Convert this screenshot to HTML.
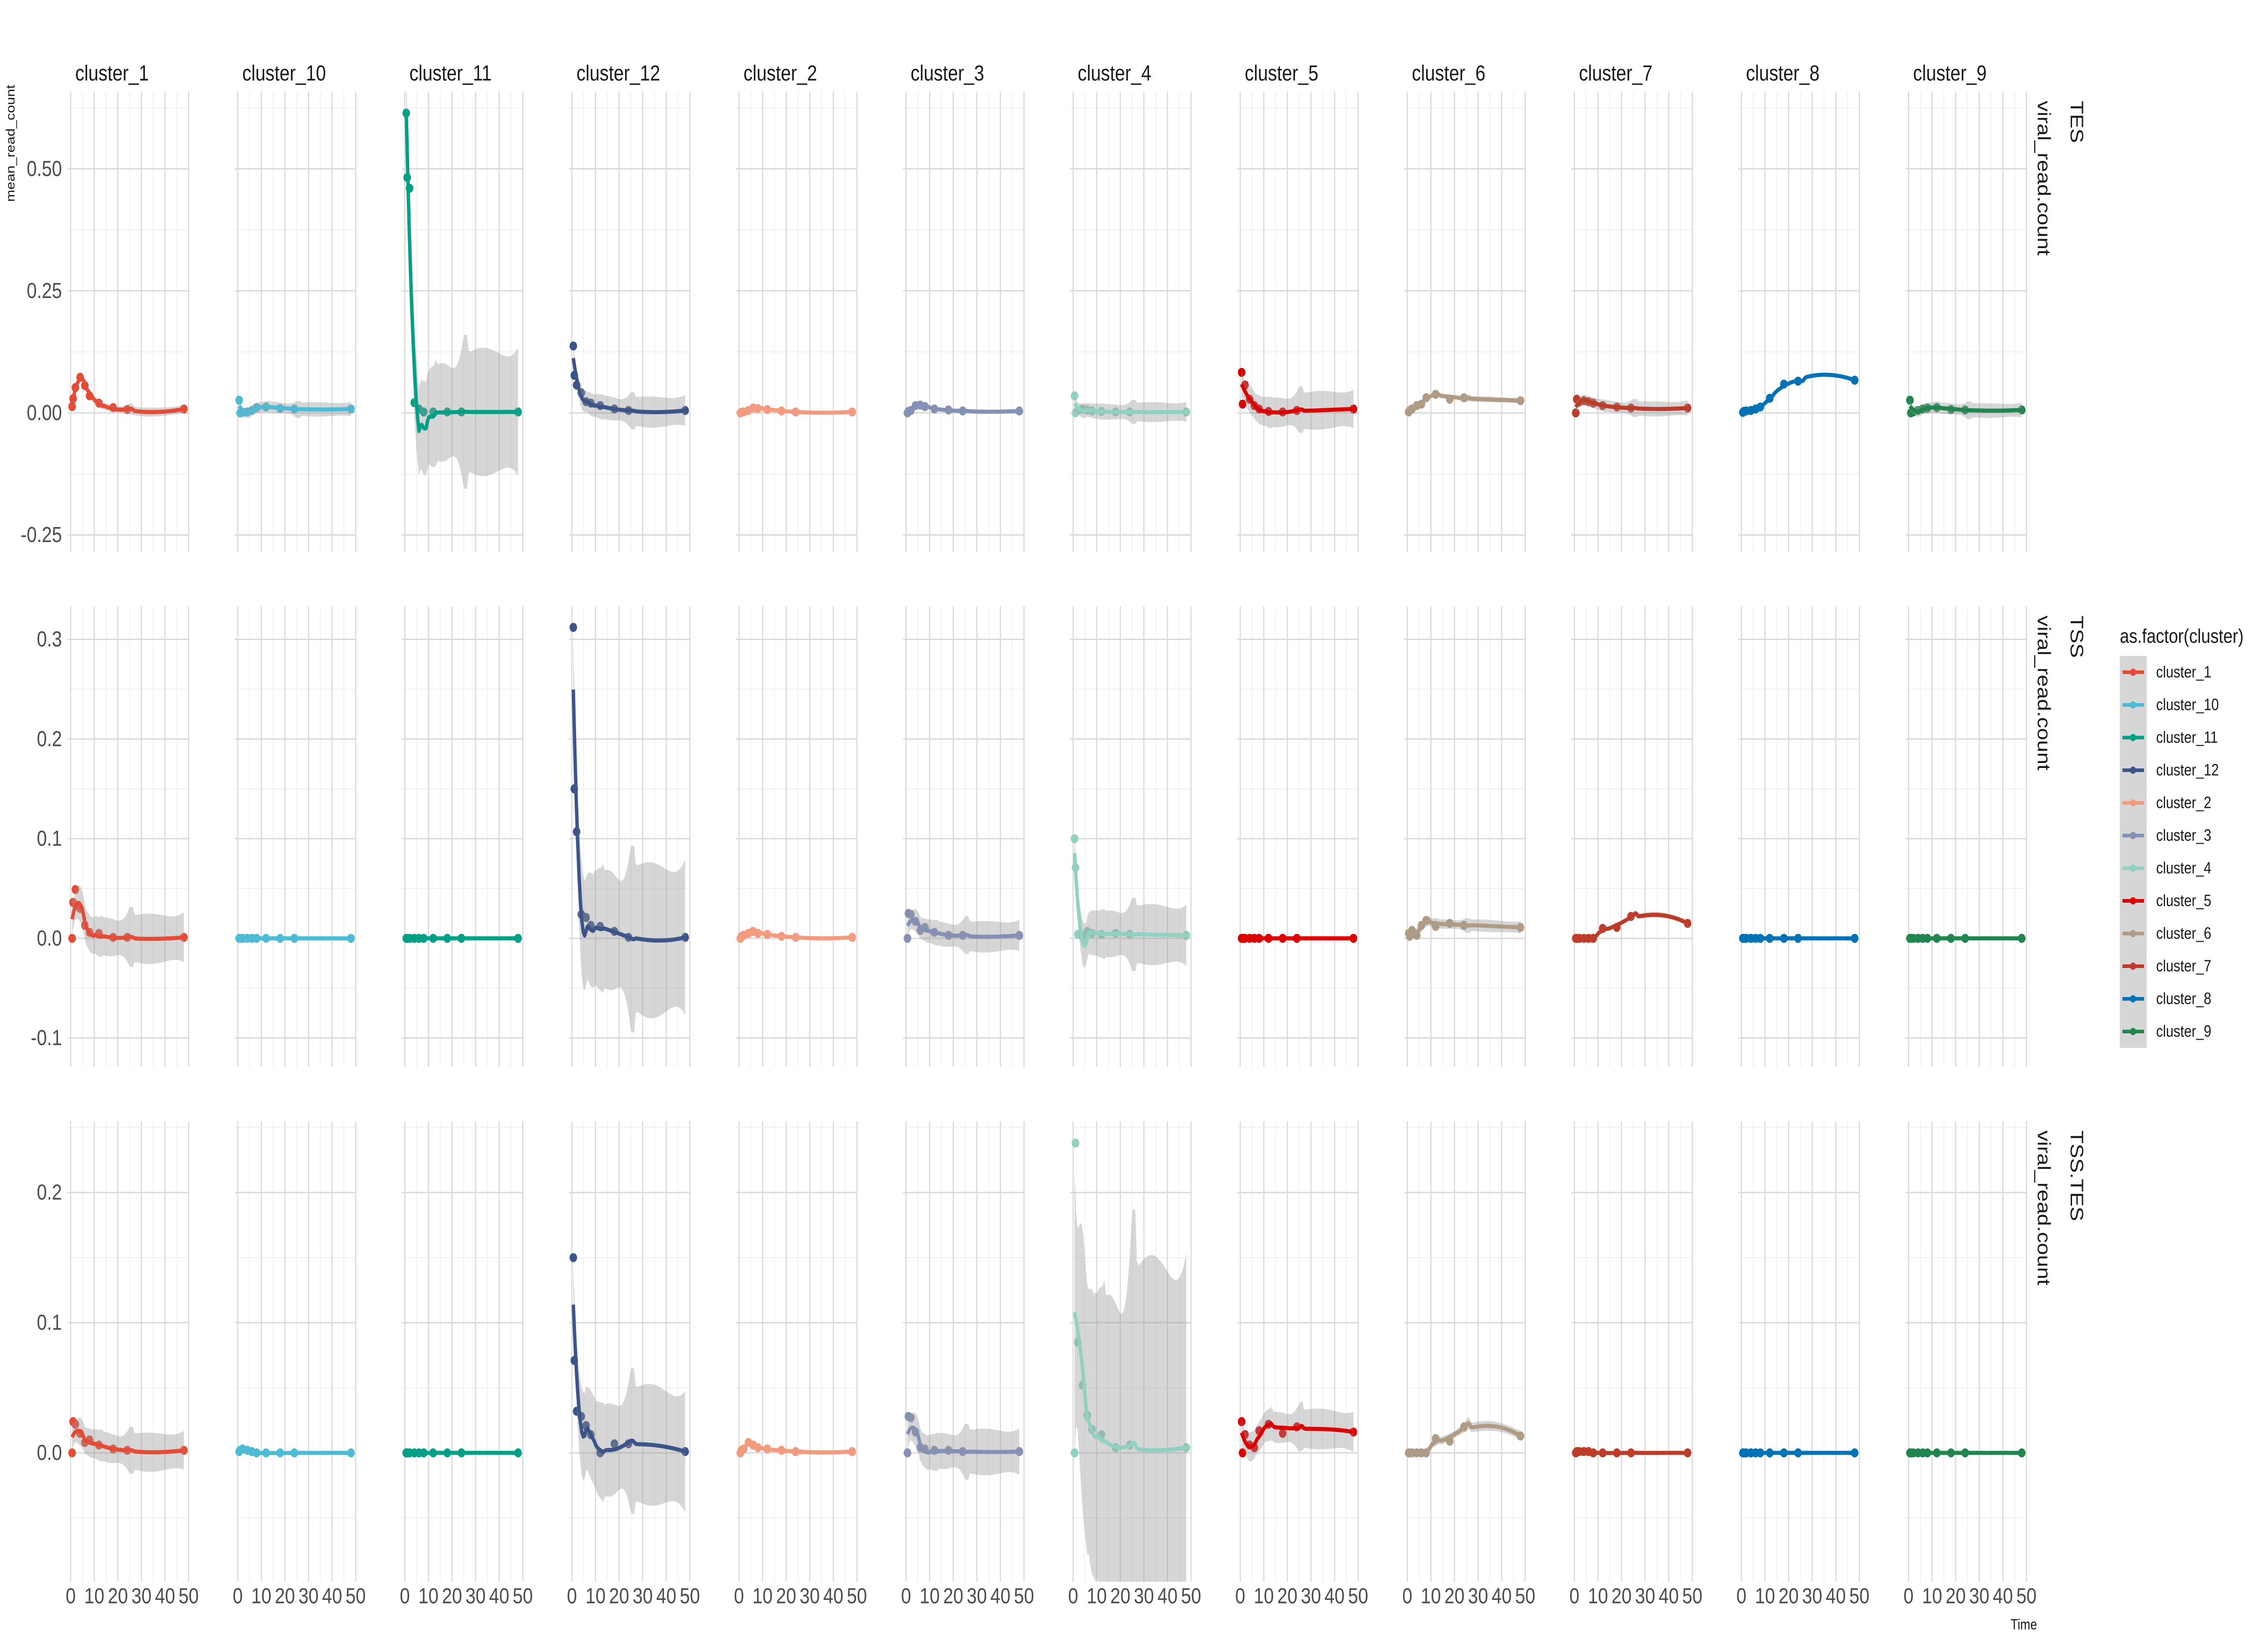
<!DOCTYPE html>
<html><head><meta charset="utf-8"><style>
html,body{margin:0;padding:0;background:#fff;width:100%;height:100%;overflow:hidden;}
svg{display:block;font-family:"Liberation Sans",Arial,sans-serif;width:100vw;height:100vh;}
</style></head><body>
<svg id="chart" viewBox="0 0 6000 3600" preserveAspectRatio="none" xmlns="http://www.w3.org/2000/svg">
<rect width="6000" height="3600" fill="#ffffff"/>
<text x="28" y="187" transform="rotate(-90 28 187)" text-anchor="end" dominant-baseline="central" font-size="32" fill="#1a1a1a">mean_read_count</text>
<text x="5354" y="3592" text-anchor="middle" font-size="32" fill="#1a1a1a">Time</text>
<g id="panels"></g>
<g id="legend">
<text x="5608" y="1417" font-size="44" fill="#1a1a1a">as.factor(cluster)</text>
<rect x="5608" y="1446" width="71" height="864" fill="#d6d6d6"/>
</g>
</svg>
<script>
const clusters = ["cluster_1","cluster_10","cluster_11","cluster_12","cluster_2","cluster_3","cluster_4","cluster_5","cluster_6","cluster_7","cluster_8","cluster_9"];
const colors = ["#E64B35","#4DBBD5","#00A087","#3C5488","#F39B7F","#8491B4","#91D1C2","#DC0000","#B09C85","#BC3C29","#0072B5","#20854E"];
const rowNames = ["TES","TSS","TSS.TES"];
const times = [0.6,1,2,4,6,8,12,18,24,48];
const xTicks = [0,10,20,30,40,50];
const rowTicks = [[-0.25,0,0.25,0.5],[-0.1,0,0.1,0.2,0.3],[0,0.1,0.2]];
const rowTickLabels = [["-0.25","0.00","0.25","0.50"],["-0.1","0.0","0.1","0.2","0.3"],["0.0","0.1","0.2"]];
const rowMinor = [[-0.125,0.125,0.375,0.625],[-0.05,0.05,0.15,0.25],[-0.05,0.05,0.15,0.25]];
const rowDomain = [[-0.285,0.658],[-0.129,0.333],[-0.099,0.2547]];
const tes = [
 [0.013,0.029,0.052,0.073,0.056,0.035,0.02,0.011,0.007,0.008],
 [0.026,0,0.001,0.002,0.005,0.011,0.012,0.009,0.008,0.008],
 [0.614,0.482,0.46,0.021,0.008,0.002,0.002,0.002,0.002,0.002],
 [0.137,0.077,0.057,0.041,0.023,0.02,0.015,0.008,0.005,0.005],
 [0,0.001,0.002,0.005,0.01,0.009,0.007,0.004,0.002,0.002],
 [0,0.003,0.005,0.015,0.016,0.013,0.008,0.006,0.004,0.004],
 [0.035,0,0.005,0.008,0.006,0.004,0.003,0.002,0.002,0.002],
 [0.083,0.018,0.057,0.028,0.015,0.008,0.003,0.002,0.005,0.008],
 [0.002,0.005,0.008,0.015,0.018,0.031,0.038,0.028,0.031,0.025],
 [0,0.028,0.022,0.025,0.023,0.02,0.015,0.012,0.01,0.01],
 [0.001,0.003,0.004,0.005,0.008,0.012,0.03,0.059,0.065,0.067],
 [0.026,0,0.002,0.005,0.008,0.01,0.011,0.007,0.006,0.006]
];
const tss = [
 [0,0.036,0.049,0.03,0.013,0.006,0.005,0.001,0.001,0.001],
 [0,0,0,0,0,0,0,0,0,0],
 [0,0,0,0,0,0,0,0,0,0],
 [0.312,0.15,0.107,0.024,0.021,0.013,0.012,0.007,0.001,0.001],
 [0,0.002,0.003,0.005,0.007,0.005,0.004,0.002,0.001,0.001],
 [0,0.025,0.024,0.017,0.008,0.011,0.006,0.003,0.003,0.003],
 [0.1,0.071,0.004,0.002,0.007,0.005,0.004,0.005,0.004,0.003],
 [0,0,0,0,0,0,0,0,0,0],
 [0.005,0.002,0.008,0.003,0.013,0.018,0.012,0.015,0.013,0.011],
 [0,0,0,0,0,0,0.01,0.011,0.022,0.015],
 [0,0,0,0,0,0,0,0,0,0],
 [0,0,0,0,0,0,0,0,0,0]
];
const tssTes = [
 [0,0.024,0.022,0.015,0.008,0.01,0.006,0.003,0.002,0.002],
 [0.001,0.002,0.003,0.002,0.001,0,0,0,0,0],
 [0,0,0,0,0,0,0,0,0,0],
 [0.15,0.071,0.032,0.028,0.021,0.014,0,0.007,0.007,0.001],
 [0,0.002,0.003,0.008,0.006,0.004,0.003,0.002,0.001,0.001],
 [0,0.028,0.027,0.016,0.004,0.003,0.002,0.002,0.001,0.001],
 [0,0.238,0.085,0.052,0.029,0.018,0.014,0.004,0.006,0.004],
 [0.024,0,0.014,0.006,0.004,0.017,0.022,0.015,0.02,0.016],
 [0,0,0,0,0,0,0.011,0.009,0.02,0.013],
 [0,0.001,0.001,0.001,0.001,0,0,0,0,0],
 [0,0,0,0,0,0,0,0,0,0],
 [0,0,0,0,0,0,0,0,0,0]
];
const rowData = [tes, tss, tssTes];

const NS = "http://www.w3.org/2000/svg";
function mk(tag, attrs, parent){const e=document.createElementNS(NS,tag);for(const k in attrs)e.setAttribute(k,attrs[k]);parent.appendChild(e);return e;}
const P_LEFT=179, P_STEP=442, P_W=321, X0_OFF=8, X_PER=6.24;
const ROW_TOP=[202,1337,2472], ROW_H=1015;
function xScale(col,t){return P_LEFT+col*P_STEP+X0_OFF+t*X_PER;}
function yScale(row,v){const d=rowDomain[row];return ROW_TOP[row]+ROW_H-(v-d[0])/(d[1]-d[0])*ROW_H;}

function solve3(A,b){
  const M=A.map((r,i)=>r.concat([b[i]]));
  for(let i=0;i<3;i++){let p=i;for(let k=i+1;k<3;k++)if(Math.abs(M[k][i])>Math.abs(M[p][i]))p=k;
    [M[i],M[p]]=[M[p],M[i]];const d=M[i][i]||1e-12;
    for(let k=0;k<3;k++){if(k===i)continue;const f=M[k][i]/d;for(let j=i;j<4;j++)M[k][j]-=f*M[i][j];}}
  return [M[0][3]/(M[0][0]||1e-12),M[1][3]/(M[1][1]||1e-12),M[2][3]/(M[2][2]||1e-12)];
}
function loessWeights(xs,x0){
  const n=xs.length,q=Math.floor(n*0.75);
  const d=xs.map(x=>Math.abs(x-x0));const s=d.slice().sort((a,b)=>a-b);let h=s[q-1]*1.0001;if(h<=0)h=1e-6;
  const w=d.map(di=>di<h?Math.pow(1-Math.pow(di/h,3),3):0);
  const A=[[0,0,0],[0,0,0],[0,0,0]];
  for(let i=0;i<n;i++){const u=xs[i]-x0,v=[1,u,u*u];for(let a=0;a<3;a++)for(let b=0;b<3;b++)A[a][b]+=w[i]*v[a]*v[b];}
  for(let a=0;a<3;a++)A[a][a]+=1e-9;
  const l=new Array(n).fill(0);
  const c0=solve3(A,[1,0,0]);
  for(let i=0;i<n;i++){const u=xs[i]-x0;l[i]=w[i]*(c0[0]+c0[1]*u+c0[2]*u*u);}
  return l;
}
function loessFit(xs,ys){
  const n=xs.length;let rss=0,tr=0;
  for(let i=0;i<n;i++){const l=loessWeights(xs,xs[i]);const f=l.reduce((s,li,j)=>s+li*ys[j],0);rss+=(ys[i]-f)**2;tr+=l[i];}
  const sigma=Math.sqrt(rss/Math.max(n-tr,1));
  const out=[];const xmin=Math.min(...xs),xmax=Math.max(...xs);
  for(let k=0;k<80;k++){const x=xmin+(xmax-xmin)*k/79;const l=loessWeights(xs,x);
    const f=l.reduce((s,li,j)=>s+li*ys[j],0);const se=sigma*Math.min(Math.sqrt(l.reduce((s,li)=>s+li*li,0)),1.2);
    out.push([x,f,se]);}
  return out;
}

const panels=document.getElementById('panels');
const defs=mk('defs',{},panels);
for(let r=0;r<3;r++){
  const rg=mk('g',{},panels);
  
  
  rowTicks[r].forEach((v,i)=>{
    const t=mk('text',{x:164,y:yScale(r,v),'text-anchor':'end','dominant-baseline':'central','font-size':48,fill:'#4d4d4d'},rg);
    t.textContent=rowTickLabels[r][i];
    
    
  });
  const st=mk('g',{},rg);
  
  
  const sy=ROW_TOP[r]+20;
  const s1=mk('text',{x:5494,y:sy,transform:`rotate(90 5494 ${sy})`,'dominant-baseline':'central','font-size':48,fill:'#1a1a1a'},st);
  s1.textContent=rowNames[r];
  const s2=mk('text',{x:5407,y:sy,transform:`rotate(90 5407 ${sy})`,'dominant-baseline':'central','font-size':48,fill:'#1a1a1a'},st);
  s2.textContent='viral_read.count';
  for(let c=0;c<12;c++){
    const g=mk('g',{},rg);
    
    
    const L=P_LEFT+c*P_STEP,T=ROW_TOP[r];
    const cid='clip'+r+'_'+c;
    const cp=mk('clipPath',{id:cid},defs);mk('rect',{x:L,y:T,width:P_W,height:ROW_H},cp);
    rowMinor[r].forEach(v=>{const y=yScale(r,v);if(y>T&&y<T+ROW_H){const ln=mk('line',{x1:L,x2:L+P_W,y1:y,y2:y,stroke:'#ebebeb','stroke-width':1.5},g);
      }});
    [5,15,25,35,45].forEach(t=>{const x=xScale(c,t);const ln=mk('line',{x1:x,x2:x,y1:T,y2:T+ROW_H,stroke:'#ebebeb','stroke-width':1.5},g);
      });
    rowTicks[r].forEach(v=>{const y=yScale(r,v);const ln=mk('line',{x1:L,x2:L+P_W,y1:y,y2:y,stroke:'#d9d9d9','stroke-width':3},g);
      });
    xTicks.forEach(t=>{const x=xScale(c,t);const ln=mk('line',{x1:x,x2:x,y1:T,y2:T+ROW_H,stroke:'#d9d9d9','stroke-width':3},g);
      });
    const cg=mk('g',{'clip-path':`url(#${cid})`},g);
    const ys=rowData[r][c];
    ys.forEach((v,i)=>{const p=mk('circle',{cx:xScale(c,times[i]),cy:yScale(r,v),r:10,fill:colors[c]},cg);
      
      });
    const fit=loessFit(times,ys);
    const K=1.7;
    let up=fit.map(p=>`${xScale(c,p[0]).toFixed(1)},${yScale(r,p[1]+K*p[2]).toFixed(1)}`);
    let lo=fit.slice().reverse().map(p=>`${xScale(c,p[0]).toFixed(1)},${yScale(r,p[1]-K*p[2]).toFixed(1)}`);
    const band=mk('polygon',{points:up.concat(lo).join(' '),fill:'#999999','fill-opacity':0.4},cg);
    
    
    const line=mk('polyline',{points:fit.map(p=>`${xScale(c,p[0]).toFixed(1)},${yScale(r,p[1]).toFixed(1)}`).join(' '),fill:'none',stroke:colors[c],'stroke-width':9,'stroke-linejoin':'round'},cg);
    
    
    if(r===0){const t=mk('text',{x:L+20,y:162,'dominant-baseline':'central','font-size':48,fill:'#1a1a1a'},g);
      t.textContent=clusters[c];
      
      }
    if(r===2){xTicks.forEach(tk=>{const t=mk('text',{x:xScale(c,tk),y:3519,'text-anchor':'middle','dominant-baseline':'central','font-size':48,fill:'#4d4d4d'},g);
      t.textContent=String(tk);
      
      });}
  }
}
const lg=document.getElementById('legend');
clusters.forEach((name,i)=>{
  const y=1482+72*i;
  const e=mk('g',{},lg);
  
  
  mk('line',{x1:5615,x2:5672,y1:y,y2:y,stroke:colors[i],'stroke-width':8},e);
  mk('circle',{cx:5643,cy:y,r:8,fill:colors[i]},e);
  const t=mk('text',{x:5704,y:y,'dominant-baseline':'central','font-size':36,fill:'#1a1a1a'},e);
  t.textContent=name;
});
</script>
</body></html>
